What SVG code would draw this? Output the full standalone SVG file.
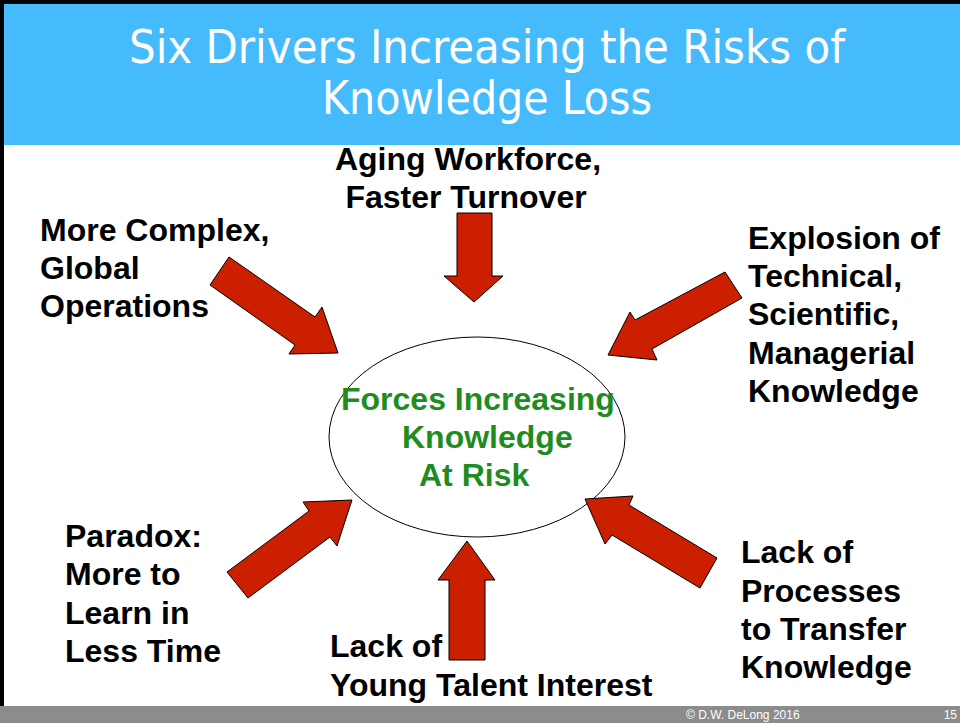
<svg xmlns="http://www.w3.org/2000/svg" width="960" height="723" viewBox="0 0 960 723">
  <style>
    .title { font-family: "DejaVu Sans Condensed", "DejaVu Sans", sans-serif; font-stretch: condensed; font-size: 46px; fill: #ffffff; }
    .lbl { font-family: "Liberation Sans", Arial, sans-serif; font-weight: bold; font-size: 32px; fill: #000000; }
    .core { font-family: "Liberation Sans", Arial, sans-serif; font-weight: bold; font-size: 32px; fill: #1f8c1f; }
    .arrow { fill: #cc1f00; stroke: #000000; stroke-width: 1; stroke-linejoin: miter; }
    .foot { font-family: "Liberation Sans", Arial, sans-serif; font-size: 12px; fill: #ffffff; }
  </style>

  <!-- page background and frame -->
  <rect x="0" y="0" width="960" height="723" fill="#ffffff"/>
  <rect x="0" y="0" width="960" height="4" fill="#000000"/>
  <rect x="0" y="0" width="4" height="706" fill="#000000"/>

  <!-- title band -->
  <g id="title">
    <rect x="4" y="4" width="956" height="141" fill="#45bbfb"/>
    <text class="title" x="487" y="63" text-anchor="middle" textLength="716" lengthAdjust="spacingAndGlyphs">Six Drivers Increasing the Risks of</text>
    <text class="title" x="487" y="114" text-anchor="middle" textLength="330" lengthAdjust="spacingAndGlyphs">Knowledge Loss</text>
  </g>

  <!-- central ellipse -->
  <g id="core">
    <ellipse cx="477" cy="437" rx="148" ry="100" fill="#ffffff" stroke="#000000" stroke-width="1"/>
    <text class="core" x="341" y="410">Forces Increasing</text>
    <text class="core" x="402" y="448">Knowledge</text>
    <text class="core" x="419" y="486">At Risk</text>
  </g>

  <!-- block arrows pointing at the ellipse -->
  <g id="connectors">
    <polygon class="arrow" points="457,213 492,213 492,276 503,276 474,302 444,276 457,276"/>
    <polygon class="arrow" points="229,257 315,317 322,307 338,353 289,354 295,345 210,285"/>
    <polygon class="arrow" points="725,272 635,320 630,312 608,355 657,360 652,349 742,298"/>
    <polygon class="arrow" points="227,572 309,511 303,502 352,500 337,546 330,537 248,598"/>
    <polygon class="arrow" points="585,499 633,496 629,505 717,558 700,588 612,535 605,544"/>
    <polygon class="arrow" points="467,541 495,580 485,580 485,660 449,660 449,580 438,580"/>
  </g>

  <!-- driver labels -->
  <g id="aging">
    <text class="lbl" x="468" y="170" text-anchor="middle">Aging Workforce,</text>
    <text class="lbl" x="466" y="208" text-anchor="middle">Faster Turnover</text>
  </g>
  <g id="complex">
    <text class="lbl" x="40" y="241">More Complex,</text>
    <text class="lbl" x="40" y="279">Global</text>
    <text class="lbl" x="40" y="317">Operations</text>
  </g>
  <g id="explosion">
    <text class="lbl" x="748" y="249">Explosion of</text>
    <text class="lbl" x="748" y="287">Technical,</text>
    <text class="lbl" x="748" y="325">Scientific,</text>
    <text class="lbl" x="748" y="364">Managerial</text>
    <text class="lbl" x="748" y="402">Knowledge</text>
  </g>
  <g id="paradox">
    <text class="lbl" x="65" y="547">Paradox:</text>
    <text class="lbl" x="65" y="585">More to</text>
    <text class="lbl" x="65" y="624">Learn in</text>
    <text class="lbl" x="65" y="662">Less Time</text>
  </g>
  <g id="talent">
    <text class="lbl" x="330" y="657">Lack of</text>
    <text class="lbl" x="330" y="696">Young Talent Interest</text>
  </g>
  <g id="processes">
    <text class="lbl" x="741" y="563">Lack of</text>
    <text class="lbl" x="741" y="602">Processes</text>
    <text class="lbl" x="741" y="640">to Transfer</text>
    <text class="lbl" x="741" y="678">Knowledge</text>
  </g>

  <!-- footer bar -->
  <g id="footer">
    <rect x="0" y="706" width="960" height="17" fill="#8c8c8c"/>
    <text class="foot" x="686" y="719">© D.W. DeLong 2016</text>
    <text class="foot" x="957" y="719" text-anchor="end">15</text>
  </g>
</svg>
